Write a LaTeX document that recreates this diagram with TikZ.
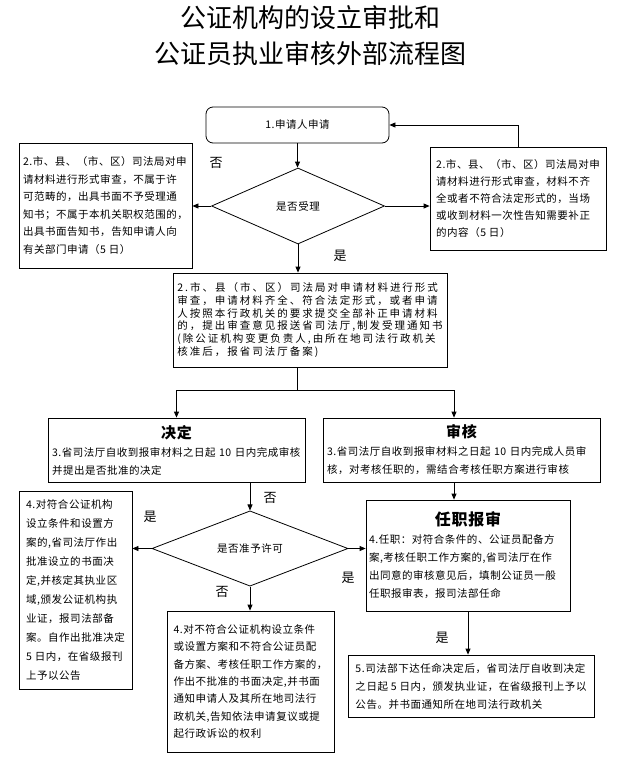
\documentclass[tikz,border=0pt]{standalone}
\usepackage{fontspec}
\setmainfont{Noto Sans CJK SC}
\newfontfamily\bodyfont{Noto Sans CJK SC}[LetterSpace=5]
\newfontfamily\spacedfont{Noto Sans CJK SC}[LetterSpace=19]
\usepackage{tikz}
\usetikzlibrary{
arrows.meta,
positioning,
shapes.geometric,
calc
}

\begin{document}
\begin{tikzpicture}[
  x=1pt, y=-1pt,
  box/.style={draw, line width=0.8pt, inner xsep=3pt, inner ysep=4pt, align=left, font=\bodyfont\fontsize{10.5}{17}\selectfont},
  ask/.style={draw, diamond, line width=0.8pt, inner sep=0pt, font=\bodyfont\fontsize{10.5}{13}\selectfont},
  yn/.style={font=\fontsize{13}{13}\selectfont},
  flow/.style={line width=0.8pt, ->},
  >={Triangle[length=6pt, width=5pt]}
]
  \useasboundingbox (0,0) rectangle (621,761);

  % Title
  \node[font=\fontsize{26}{36}\selectfont, align=center] (title) at (310,36)
    {公证机构的设立审批和\\公证员执业审核外部流程图};

  % Application and acceptance
  \node[box, rounded corners=7pt, align=center, minimum width=183, minimum height=36] (apply) at (297.5,125) {1.申请人申请};
  \node[ask, minimum width=173, minimum height=76] (accept) at (298,206) {是否受理};

  \node[box, minimum width=173, minimum height=125, font=\bodyfont\fontsize{10.5}{17.5}\selectfont] (reject) at (105.5,205.5)
    {2.市、县、（市、区）司法局对申\\请材料进行形式审查，不属于许\\可范畴的，出具书面不予受理通\\知书；不属于本机关职权范围的，\\出具书面告知书，告知申请人向\\有关部门申请（5 日）};
  \node[box, minimum width=176, minimum height=103] (supply) at (518,198.5)
    {2.市、县、（市、区）司法局对申\\请材料进行形式审查，材料不齐\\全或者不符合法定形式的，当场\\或收到材料一次性告知需要补正\\的内容（5 日）};

  \node[box, minimum width=274, minimum height=94, font=\spacedfont\fontsize{10.5}{12.8}\selectfont] (filed) at (310,320)
    {2.市、县（市、区）司法局对申请材料进行形式\\审查，申请材料齐全、符合法定形式，或者申请\\人按照本行政机关的要求提交全部补正申请材料\\的，提出审查意见报送省司法厅,制发受理通知书\\(除公证机构变更负责人,由所在地司法行政机关\\核准后，报省司法厅备案)};

  \coordinate (split) at (297,390);
  \coordinate (splitR) at (454,390);

  % Decision and review
  \node[box, minimum width=257, minimum height=64, text width=249, font=\bodyfont\fontsize{10.5}{18}\selectfont] (decide) at (176.5,450)
    {{\centering\fontsize{15}{18}\selectfont\bfseries 决定\par}
     3.省司法厅自收到报审材料之日起~10~日内完成审核\\并提出是否批准的决定};
  \node[box, minimum width=277, minimum height=64, text width=269, font=\bodyfont\fontsize{10.5}{18}\selectfont] (review) at (461.5,450)
    {{\centering\fontsize{15}{18}\selectfont\bfseries 审核\par}
     3.省司法厅自收到报审材料之日起~10~日内完成人员审\\核，对考核任职的，需结合考核任职方案进行审核};

  \node[ask, minimum width=196, minimum height=51] (permit) at (250,548.5) {是否准予许可};

  \node[box, minimum width=113, minimum height=198, font=\bodyfont\fontsize{10.5}{19}\selectfont] (grant) at (75.5,590)
    {4.对符合公证机构\\设立条件和设置方\\案的,省司法厅作出\\批准设立的书面决\\定,并核定其执业区\\域,颁发公证机构执\\业证，报司法部备\\案。自作出批准决定\\5 日内，在省级报刊\\上予以公告};
  \node[box, minimum width=167, minimum height=141, font=\bodyfont\fontsize{10.5}{17.3}\selectfont] (deny) at (250.5,681.5)
    {4.对不符合公证机构设立条件\\或设置方案和不符合公证员配\\备方案、考核任职工作方案的，\\作出不批准的书面决定,并书面\\通知申请人及其所在地司法行\\政机关,告知依法申请复议或提\\起行政诉讼的权利};

  \node[box, minimum width=204, minimum height=111, text width=198, font=\bodyfont\fontsize{10.5}{18}\selectfont] (appoint) at (468,555.5)
    {{\centering\fontsize{16}{19}\selectfont\bfseries 任职报审\par}
     4.任职：对符合条件的、公证员配备方\\案,考核任职工作方案的,省司法厅在作\\出同意的审核意见后，填制公证员一般\\任职报审表，报司法部任命};
  \node[box, minimum width=246, minimum height=62, font=\bodyfont\fontsize{10.5}{18}\selectfont] (issue) at (471,686)
    {5.司法部下达任命决定后，省司法厅自收到决定\\之日起 5 日内，颁发执业证，在省级报刊上予以\\公告。并书面通知所在地司法行政机关};

  % Yes / no marks
  \node[yn] (no1) at (216,163) {否};
  \node[yn] (yes1) at (340,256) {是};
  \node[yn] (no2) at (270,498) {否};
  \node[yn] (yes2) at (150,517) {是};
  \node[yn] (no3) at (222,592) {否};
  \node[yn] (yes3) at (348,578) {是};
  \node[yn] (yes4) at (442,638) {是};

  % Connectors
  \draw[flow] (apply.south) -- (apply.south |- accept.north);
  \draw[flow] (accept.west) -- (accept.west -| reject.east);
  \draw[flow] (accept.east) -- (accept.east -| supply.west);
  \draw[flow] (supply.north) |- (apply.east);
  \draw[flow] (accept.south) -- (accept.south |- filed.north);
  \draw[flow] (filed.south -| split) -- (split) -| (decide.north);
  \draw[flow] (split) -- (splitR) -- (splitR |- review.north);
  \draw[flow] (decide.south -| permit.north) -- (permit.north);
  \draw[flow] (permit.west) -- (permit.west -| grant.east);
  \draw[flow] (permit.south) -- (permit.south |- deny.north);
  \draw[flow] (permit.east) -- (permit.east -| appoint.west);
  \draw[flow] (review.south -| splitR) -- (splitR |- appoint.north);
  \draw[flow] (appoint.south) -- (appoint.south |- issue.north);

\end{tikzpicture}
\end{document}
